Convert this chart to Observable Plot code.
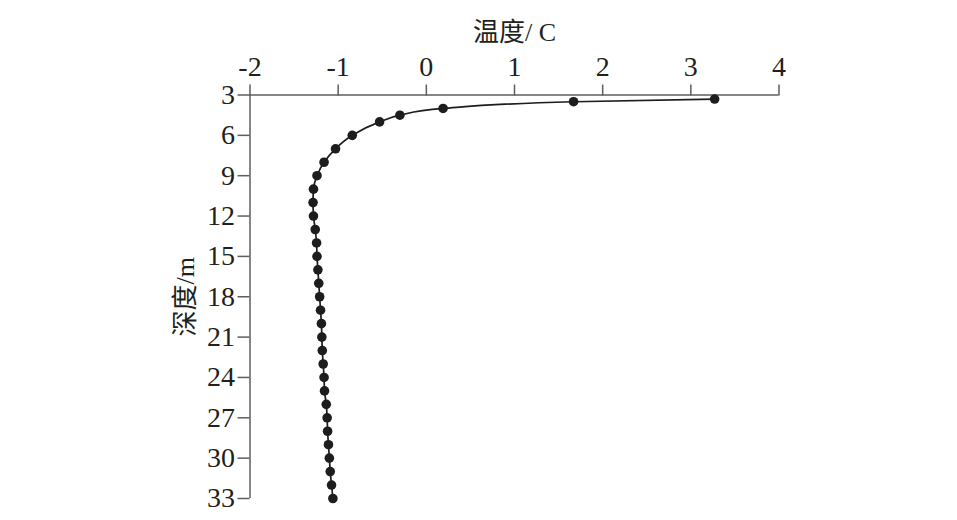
<!DOCTYPE html>
<html>
<head>
<meta charset="utf-8">
<script src="https://cdn.jsdelivr.net/npm/d3@7"></script>
<script src="https://cdn.jsdelivr.net/npm/@observablehq/plot@0.6"></script>
<style>
  html, body { margin: 0; padding: 0; background: #fff; }
  #chart { width: 957px; height: 520px; }
  #chart svg text { font-family: "Liberation Serif", "Times New Roman", "DejaVu Serif", "Noto Sans CJK SC", serif; }
</style>
</head>
<body>
<div id="chart"></div>
<script>
const depth = [3.3, 3.5, 4, 4.5, 5, 6, 7, 8, 9, 10, 11, 12, 13, 14, 15, 16, 17, 18, 19, 20, 21, 22, 23, 24, 25, 26, 27, 28, 29, 30, 31, 32, 33];
const temperature = [3.27, 1.67, 0.19, -0.30, -0.53, -0.84, -1.03, -1.16, -1.24, -1.28, -1.285, -1.28, -1.26, -1.245, -1.24, -1.23, -1.22, -1.21, -1.20, -1.19, -1.185, -1.18, -1.17, -1.16, -1.155, -1.135, -1.125, -1.12, -1.11, -1.10, -1.09, -1.075, -1.06];
const xTicks = [-2, -1, 0, 1, 2, 3, 4];
const yTicks = [3, 6, 9, 12, 15, 18, 21, 24, 27, 30, 33];
const xTitle = "温度/ C";
const yTitle = "深度/m";

const data = depth.map((d, i) => ({depth: d, temp: temperature[i]}));
const axisColor = "#5e5e5e";
const inkColor = "#1e1c1d";
const textColor = "#231f20";
const serif = "'Liberation Serif', 'Times New Roman', 'DejaVu Serif', 'Noto Sans CJK SC', serif";

const chart = Plot.plot({
  width: 957,
  height: 520,
  marginLeft: 249.5,
  marginRight: 178.5,
  marginTop: 94.5,
  marginBottom: 22,
  style: {fontSize: "28px", color: textColor, background: "#fff"},
  x: {domain: [-2, 4]},
  y: {domain: [3, 33], reverse: true},
  marks: [
    Plot.ruleY([3], {stroke: axisColor, strokeWidth: 1.5}),
    Plot.ruleX([-2], {stroke: axisColor, strokeWidth: 1.5}),
    Plot.axisX({anchor: "top", ticks: xTicks, tickSize: 11, tickPadding: 8, tickFormat: d => String(d), label: null, stroke: axisColor, strokeWidth: 1.5, fill: textColor, fontSize: 28, fontFamily: serif}),
    Plot.axisY({anchor: "left", ticks: yTicks, tickSize: 12, tickPadding: 3, tickFormat: d => String(d), label: null, stroke: axisColor, strokeWidth: 1.5, fill: textColor, fontSize: 28, fontFamily: serif}),
    Plot.line(data, {x: "temp", y: "depth", curve: "monotone-y", stroke: inkColor, strokeWidth: 1.7}),
    Plot.dot(data, {x: "temp", y: "depth", r: 4.8, fill: inkColor, stroke: "none"}),
    Plot.text([xTitle], {frameAnchor: "top", lineAnchor: "middle", textAnchor: "middle", dy: -62, text: d => d, fontSize: 26, fill: textColor, fontFamily: serif}),
    Plot.text([yTitle], {frameAnchor: "left", lineAnchor: "middle", textAnchor: "middle", dx: -64, rotate: -90, text: d => d, fontSize: 26, fill: textColor, fontFamily: serif})
  ]
});
document.getElementById("chart").appendChild(chart);
</script>
</body>
</html>
